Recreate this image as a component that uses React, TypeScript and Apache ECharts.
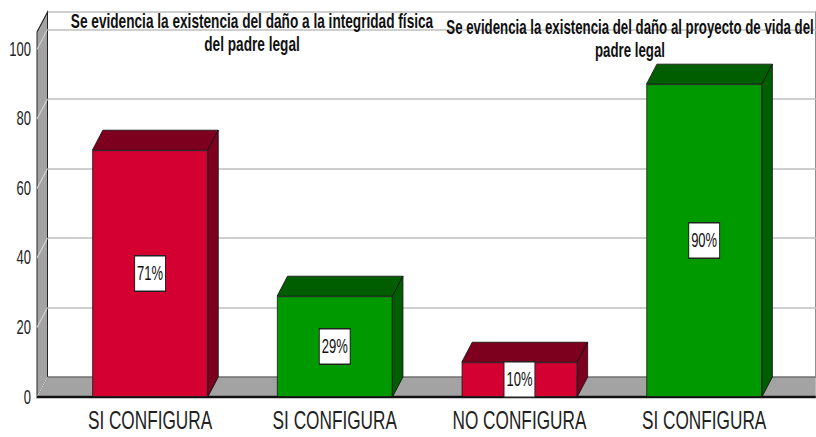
import React, { useEffect, useRef } from "react";
import * as echarts from "echarts";

// ---- data ----
const categories = ["SI CONFIGURA", "SI CONFIGURA", "NO CONFIGURA", "SI CONFIGURA"];
const values = [71, 29, 10, 90];
const yTicks = [0, 20, 40, 60, 80, 100];
const groupTitles = [
  "Se evidencia la existencia del daño a la integridad física\ndel padre legal",
  "Se evidencia la existencia del daño al proyecto de vida del\npadre legal",
];

// ---- styles ----
const frontColors = ["#d50032", "#009a00", "#d50032", "#009a00"];
const darkColors = ["#7e001f", "#005e00", "#7e001f", "#005e00"];
const FONT = '"Liberation Sans", Arial, sans-serif';

// horizontal squeeze of the original picture
const S = 0.65;
const W = Math.round(816 / S);
const H = 437;
const px = (x: number) => x / S;

const FLOOR_Y = 397;
const TOP_Y = 32;
const Y_MAX = 105;
const DX = px(10.5);
const DY = 20;
const WALL_FRONT_X = px(37);
const WALL_BACK_X = px(47.5);

export default function App() {
  const ref = useRef<HTMLDivElement>(null);

  useEffect(() => {
    if (!ref.current) return;
    const chart = echarts.init(ref.current, undefined, { renderer: "svg" });
    const unit = (FLOOR_Y - TOP_Y) / Y_MAX;

    const graphics: any[] = [
      {
        type: "polygon",
        z: 1,
        shape: {
          points: [
            [WALL_FRONT_X, FLOOR_Y],
            [WALL_BACK_X, FLOOR_Y - DY],
            [W + 50, FLOOR_Y - DY],
            [W + 50, FLOOR_Y],
          ],
        },
        style: { fill: "#a3a3a3", stroke: "#444", lineWidth: 1 },
      },
      {
        type: "polygon",
        z: 1,
        shape: {
          points: [
            [WALL_FRONT_X, FLOOR_Y],
            [WALL_FRONT_X, TOP_Y],
            [WALL_BACK_X, TOP_Y - DY],
            [WALL_BACK_X, FLOOR_Y - DY],
          ],
        },
        style: { fill: "#a3a3a3", stroke: "#222", lineWidth: 1.5 },
      },
      ...yTicks.map((v) => ({
        type: "line",
        z: 1,
        shape: {
          x1: WALL_FRONT_X,
          y1: FLOOR_Y - v * unit,
          x2: WALL_BACK_X,
          y2: FLOOR_Y - v * unit - DY,
        },
        style: { stroke: "#d4d4d4", lineWidth: 1.5 },
      })),
      {
        type: "line",
        z: 1,
        shape: { x1: WALL_FRONT_X, y1: FLOOR_Y, x2: W + 50, y2: FLOOR_Y },
        style: { stroke: "#111", lineWidth: 2.5 },
      },
      {
        type: "text",
        z: 10,
        x: px(252),
        y: 33,
        scaleX: 1.05,
        style: {
          text: groupTitles[0],
          align: "center",
          verticalAlign: "middle",
          font: `bold 20px ${FONT}`,
          lineHeight: 23,
          fill: "#111",
        },
      },
      {
        type: "text",
        z: 10,
        x: px(630),
        y: 39,
        scaleX: 1.02,
        style: {
          text: groupTitles[1],
          align: "center",
          verticalAlign: "middle",
          font: `bold 20px ${FONT}`,
          lineHeight: 23,
          fill: "#111",
        },
      },
    ];

    chart.setOption({
      animation: false,
      grid: [
        { left: px(57.7), right: W - px(796.5), top: TOP_Y, bottom: H - FLOOR_Y },
        {
          left: WALL_BACK_X,
          right: -30,
          top: TOP_Y - DY,
          bottom: H - FLOOR_Y + DY,
          show: true,
          backgroundColor: "#fff",
          borderColor: "#333",
          borderWidth: 1.5,
        },
      ],
      xAxis: [
        {
          type: "category",
          gridIndex: 0,
          data: categories,
          axisLine: { show: false },
          axisTick: { show: false },
          axisLabel: {
            interval: 0,
            margin: 9,
            color: "#222",
            fontSize: 26.5,
            lineHeight: 28,
            fontFamily: FONT,
          },
        },
        { type: "category", gridIndex: 1, data: categories, show: false },
      ],
      yAxis: [
        {
          type: "value",
          gridIndex: 0,
          min: 0,
          max: Y_MAX,
          interval: 20,
          axisLine: { show: false },
          axisTick: { show: false },
          splitLine: { show: false },
          axisLabel: {
            margin: 41,
            color: "#222",
            fontSize: 20,
            fontFamily: FONT,
            padding: [6, 0, 0, 0],
            formatter: (v: number) => (yTicks.includes(v) ? String(v) : ""),
          },
        },
        {
          type: "value",
          gridIndex: 1,
          min: 0,
          max: Y_MAX,
          interval: 20,
          axisLine: { show: false },
          axisTick: { show: false },
          axisLabel: { show: false },
          splitLine: { show: true, lineStyle: { color: "#cfcfcf", width: 2 } },
        },
      ],
      graphic: graphics,
      series: [
        {
          type: "custom",
          xAxisIndex: 0,
          yAxisIndex: 0,
          z: 2,
          data: values.map((v, i) => [i, v]),
          encode: { x: 0, y: 1 },
          renderItem: (params: any, api: any) => {
            const i = api.value(0);
            const v = api.value(1);
            const top = api.coord([i, v]);
            const base = api.coord([i, 0]);
            const hw = (api.size([1, 0])[0] * 0.625) / 2;
            const x0 = top[0] - hw;
            const x1 = top[0] + hw;
            const fill = darkColors[params.dataIndex];
            return {
              type: "group",
              children: [
                {
                  type: "polygon",
                  shape: {
                    points: [
                      [x0, top[1]],
                      [x1, top[1]],
                      [x1 + DX, top[1] - DY],
                      [x0 + DX, top[1] - DY],
                    ],
                  },
                  style: { fill, stroke: "#111", lineWidth: 1 },
                },
                {
                  type: "polygon",
                  shape: {
                    points: [
                      [x1, top[1]],
                      [x1 + DX, top[1] - DY],
                      [x1 + DX, base[1] - DY],
                      [x1, base[1]],
                    ],
                  },
                  style: { fill, stroke: "#111", lineWidth: 1 },
                },
              ],
            };
          },
        },
        {
          type: "bar",
          xAxisIndex: 0,
          yAxisIndex: 0,
          z: 3,
          barWidth: "62.5%",
          data: values.map((v, i) => ({ value: v, itemStyle: { color: frontColors[i] } })),
          itemStyle: { borderColor: "#1a1a1a", borderWidth: 1 },
          label: {
            show: true,
            position: "inside",
            formatter: "{c}%",
            color: "#111",
            fontSize: 20,
            lineHeight: 20,
            fontFamily: FONT,
            backgroundColor: "#fff",
            borderColor: "#222",
            borderWidth: 1.5,
            padding: [7, 3],
          },
        },
      ],
    });

    return () => chart.dispose();
  }, []);

  return (
    <div
      style={{
        position: "fixed",
        left: 0,
        top: 0,
        width: 816,
        height: H,
        overflow: "hidden",
        background: "#fff",
      }}
    >
      <div
        ref={ref}
        style={{
          width: W,
          height: H,
          transform: `scaleX(${S})`,
          transformOrigin: "0 0",
        }}
      />
    </div>
  );
}
